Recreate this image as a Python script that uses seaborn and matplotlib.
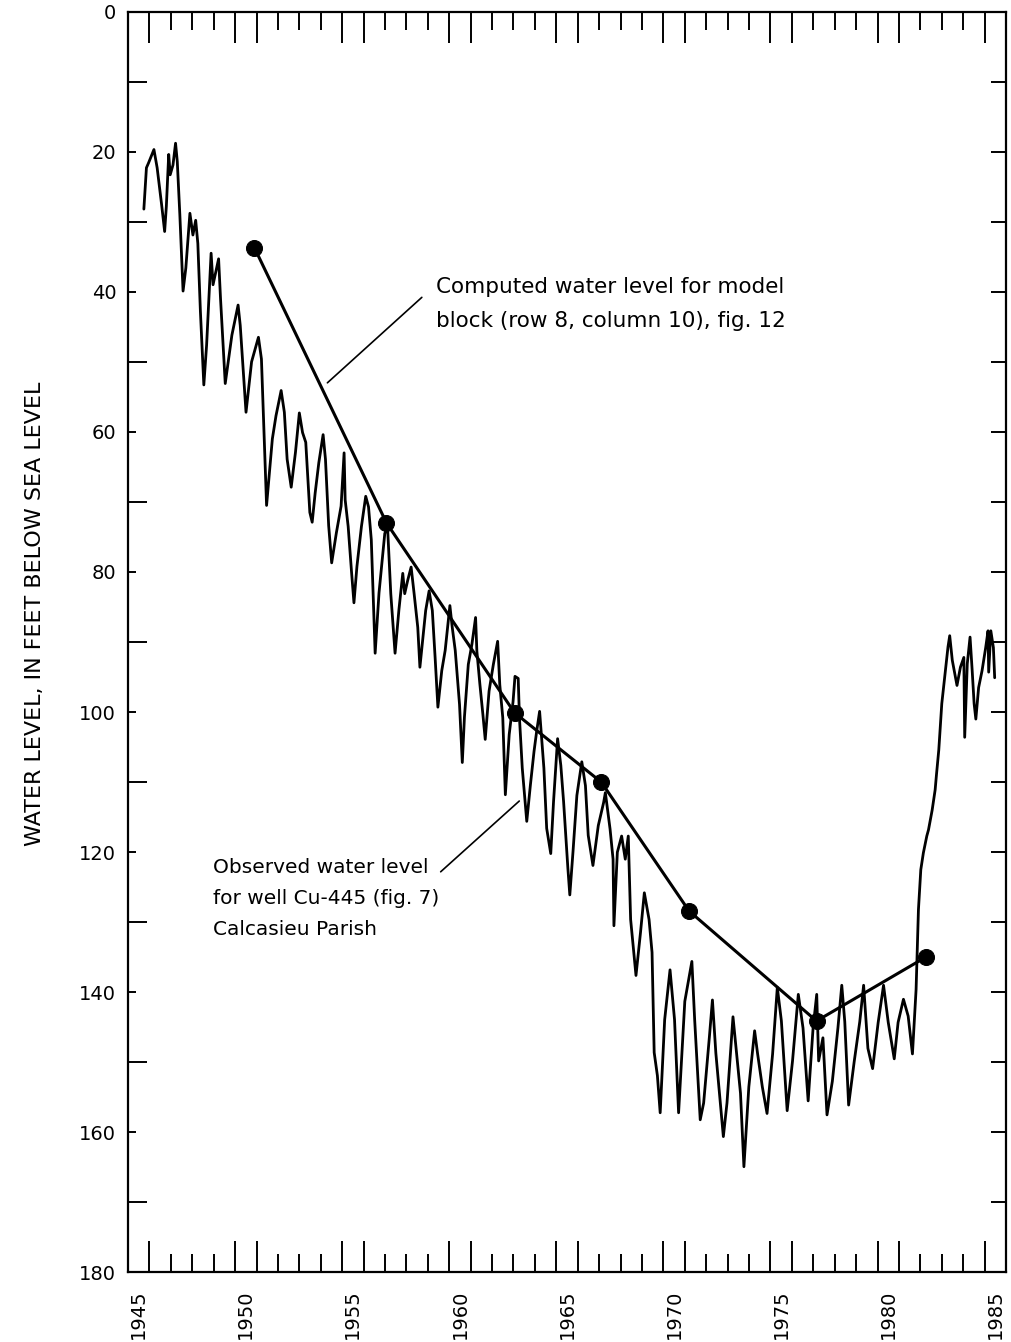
import numpy as np
import pandas as pd
import matplotlib
matplotlib.use("Agg")
import matplotlib.pyplot as plt
import seaborn as sns

sns.set_theme(style="white")
plt.rcParams['font.family'] = ['DejaVu Sans']

# Observed water level, well Cu-445 (year, feet below sea level)
obs_year = [
    1945.74, 1945.86, 1945.96, 1946.21, 1946.36, 1946.57, 1946.71, 1946.79, 1946.90, 1946.97,
    1947.10, 1947.22, 1947.30, 1947.42, 1947.57, 1947.70, 1947.89, 1948.03, 1948.16, 1948.26,
    1948.38, 1948.54, 1948.67, 1948.88, 1948.97, 1949.23, 1949.32, 1949.54, 1949.85, 1950.14,
    1950.24, 1950.51, 1950.77, 1951.09, 1951.23,
    1951.47, 1951.74, 1951.91, 1952.15, 1952.30, 1952.43, 1952.62, 1952.82, 1953.00, 1953.15,
    1953.30, 1953.49, 1953.60, 1953.74, 1953.91, 1954.11, 1954.22, 1954.37, 1954.51, 1954.73,
    1954.95, 1955.09, 1955.14, 1955.28, 1955.44, 1955.55, 1955.69, 1955.90, 1956.10, 1956.23,
    1956.36, 1956.48, 1956.54, 1956.72, 1956.99, 1957.12, 1957.27, 1957.47, 1957.65, 1957.83,
    1957.92, 1958.06, 1958.22, 1958.36, 1958.53, 1958.63, 1958.90, 1959.06,
    1959.21, 1959.34, 1959.47, 1959.65, 1959.81, 1960.03, 1960.14, 1960.28, 1960.48, 1960.61,
    1960.71, 1960.89, 1961.06, 1961.23, 1961.29, 1961.43, 1961.57, 1961.68, 1961.86, 1962.06,
    1962.26, 1962.36, 1962.50, 1962.62, 1962.80, 1962.98, 1963.07, 1963.22, 1963.28, 1963.41,
    1963.62, 1963.79, 1963.96, 1964.08, 1964.22, 1964.42, 1964.55, 1964.74, 1964.87, 1965.06,
    1965.21, 1965.34, 1965.54, 1965.63, 1965.78, 1965.96, 1966.19, 1966.36, 1966.49, 1966.71,
    1966.96, 1967.21, 1967.29, 1967.51, 1967.65, 1967.69, 1967.85, 1968.05, 1968.22, 1968.36,
    1968.47, 1968.72, 1968.93, 1969.11, 1969.33, 1969.47, 1969.57, 1969.72, 1969.85, 1970.06,
    1970.31, 1970.52, 1970.71, 1971.00, 1971.33, 1971.46, 1971.72, 1971.88, 1972.15, 1972.29,
    1972.45, 1972.80, 1972.97, 1973.25, 1973.39, 1973.60, 1973.76, 1973.99, 1974.26, 1974.40,
    1974.62, 1974.84, 1975.10, 1975.32, 1975.51, 1975.78, 1976.03, 1976.30, 1976.52, 1976.76,
    1976.99, 1977.16, 1977.25, 1977.45, 1977.64, 1977.89, 1978.15, 1978.33, 1978.47, 1978.65,
    1978.91, 1979.17, 1979.35, 1979.55, 1979.77, 1980.03, 1980.28, 1980.50, 1980.78, 1980.96,
    1981.21, 1981.43, 1981.63, 1981.80, 1981.91, 1982.02, 1982.14, 1982.30, 1982.38, 1982.55,
    1982.69, 1982.75, 1982.86, 1983.00, 1983.17, 1983.29, 1983.37, 1983.49, 1983.71, 1983.87,
    1984.03, 1984.07, 1984.19, 1984.32, 1984.42, 1984.51, 1984.59, 1984.72, 1984.88, 1985.05,
    1985.16, 1985.19, 1985.29, 1985.41, 1985.47,
]
obs_level = [
    28.2, 22.3, 21.6, 19.7, 22.3, 27.6, 31.4, 27.8, 20.4, 23.3,
    21.9, 18.8, 21.4, 29.0, 39.9, 36.6, 28.8, 31.9, 29.8, 33.1,
    42.8, 53.3, 47.6, 34.5, 39.0, 35.3, 41.0, 53.1, 46.2, 41.9,
    44.8, 57.2, 50.0, 46.5, 49.6,
    70.5, 61.0, 57.7, 54.1, 57.2, 63.9, 67.9, 62.9, 57.3, 60.1,
    61.5, 71.5, 72.9, 68.7, 64.4, 60.4, 63.9, 73.4, 78.7, 74.4,
    70.6, 63.0, 69.7, 73.5, 80.1, 84.4, 79.2, 73.5, 69.2, 70.7,
    75.4, 86.4, 91.6, 83.0, 74.5, 73.6, 83.1, 91.6, 85.4, 80.2,
    83.1, 81.2, 79.3, 83.1, 87.9, 93.6, 85.5, 82.7,
    85.5, 92.2, 99.3, 94.1, 91.2, 84.8, 87.9, 91.2, 98.9, 107.2,
    100.7, 93.2, 90.3, 86.5, 91.3, 96.0, 100.3, 103.9, 97.0, 93.2,
    89.9, 96.1, 100.8, 111.8, 103.2, 98.5, 94.9, 95.2, 100.9, 108.0,
    115.6, 110.4, 105.6, 102.8, 99.9, 108.0, 116.6, 120.2, 112.8, 103.8,
    107.6, 112.8, 122.3, 126.1, 119.9, 111.9, 107.1, 110.5, 117.6, 121.9,
    116.2, 112.9, 111.5, 116.7, 121.0, 130.5, 120.0, 117.7, 121.0, 117.7,
    129.6, 137.6, 131.5, 125.8, 129.6, 134.3, 148.6, 151.9, 157.2, 143.9,
    136.8, 143.9, 157.2, 141.3, 135.6, 143.9, 158.2, 155.8, 146.3, 141.1,
    148.7, 160.6, 155.8, 143.5, 147.8, 154.4, 164.9, 153.5, 145.5, 148.8,
    153.5, 157.3, 148.8, 139.3, 144.1, 156.9, 149.8, 140.3, 145.1, 155.5,
    145.1, 140.3, 149.8, 146.5, 157.5, 152.7, 145.1, 139.0, 144.2, 156.1,
    149.9, 144.2, 139.0, 148.0, 150.9, 144.3, 139.0, 144.3, 149.5, 144.3,
    141.0, 143.4, 148.8, 139.6, 128.2, 122.5, 120.1, 117.7, 116.8, 114.0,
    111.1, 109.0, 105.4, 98.8, 94.0, 90.7, 89.1, 92.6, 96.2, 93.6,
    92.2, 103.6, 93.1, 89.3, 94.1, 98.8, 101.0, 96.5, 94.1, 90.8,
    88.4, 94.3, 88.4, 90.8, 95.1,
]

# Computed water level for model block (row 8, column 10)
model_year = [1950.90, 1957.07, 1963.05, 1967.10, 1971.20, 1977.15, 1982.24]
model_level = [33.7, 73.0, 100.1, 110.0, 128.4, 144.1, 135.0]

year_labels = list(range(1945, 1986, 5))
level_labels = list(range(0, 181, 20))

computed_text = "Computed water level for model\nblock (row 8, column 10), fig. 12"
observed_text = "Observed water level\nfor well Cu-445 (fig. 7)\nCalcasieu Parish"

obs = pd.DataFrame({"year": obs_year, "level": obs_level})
mod = pd.DataFrame({"year": model_year, "level": model_level})

fig = plt.figure(figsize=(10.12, 13.42), dpi=100)
ax = fig.add_axes([0.1265, 0.0518, 0.8676, 0.9396])

sns.lineplot(data=obs, x="year", y="level", sort=False, estimator=None,
             color="black", lw=2.0, ax=ax)
sns.lineplot(data=mod, x="year", y="level", sort=False, estimator=None,
             color="black", lw=2.2, marker="o", markersize=11.5,
             markeredgecolor="black", markerfacecolor="black", ax=ax)

ax.set_xlim(1945, 1986)
ax.set_ylim(180, 0)

# leader lines for the annotations
ax.plot([1958.72, 1954.31], [40.8, 53.0], color="black", lw=1.2)
ax.plot([1963.27, 1959.60], [112.7, 122.8], color="black", lw=1.2)

ax.text(1959.39, 37.9, computed_text, ha="left", va="top", fontsize=15.5,
        linespacing=1.9, color="black")
ax.text(1948.95, 120.9, observed_text, ha="left", va="top", fontsize=14.5,
        linespacing=1.8, color="black")

for s in ax.spines.values():
    s.set_color("black")
    s.set_linewidth(1.6)

# x ticks: yearly short ticks, long ticks bounding the labelled years
long_years = sorted(set([y for y in year_labels] + [y + 1 for y in year_labels]))
ax.set_xticks(long_years)
ax.set_xticks(list(range(1945, 1987)), minor=True)
ax.tick_params(axis="x", which="major", direction="in", length=22, width=1.4,
               top=True, bottom=True, labelbottom=False, color="black")
ax.tick_params(axis="x", which="minor", direction="in", length=13, width=1.4,
               top=True, bottom=True, color="black")

# year labels centred within each labelled year
secx = ax.secondary_xaxis("bottom")
secx.set_xticks([y + 0.5 for y in year_labels])
secx.set_xticklabels([str(y) for y in year_labels], rotation=90, fontsize=14)
secx.tick_params(length=0, pad=12, colors="black")
secx.spines["bottom"].set_visible(False)

# y ticks
ax.set_yticks(level_labels)
ax.set_yticklabels([str(v) for v in level_labels], fontsize=14)
ax.set_yticks(list(range(10, 180, 20)), minor=True)
ax.tick_params(axis="y", which="major", direction="in", length=6, width=1.4,
               left=True, right=False, pad=8.5, color="black", labelcolor="black")
ax.tick_params(axis="y", which="minor", direction="in", length=14, width=1.4,
               left=True, right=False, color="black")

secy = ax.secondary_yaxis("right")
secy.set_yticks(list(range(10, 180, 10)))
secy.set_yticklabels([])
secy.tick_params(direction="in", length=11, width=1.4, color="black")
secy.spines["right"].set_visible(False)

ax.set_xlabel("")
ax.set_ylabel("WATER LEVEL, IN FEET BELOW SEA LEVEL", fontsize=16, color="black")
ax.yaxis.set_label_coords(-0.095, 0.522)

fig.savefig("out.png", dpi=100)
